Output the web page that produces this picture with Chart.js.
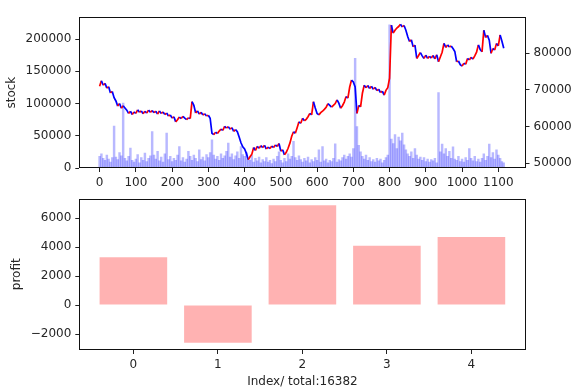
<!DOCTYPE html>
<html>
<head>
<meta charset="utf-8">
<script src="https://cdn.jsdelivr.net/npm/chart.js@4"></script>
<style>
body { margin: 0; background: #fff; }
#top { position: absolute; left: 0; top: 0; }
#bottom { position: absolute; left: 0; top: 180px; }
</style>
</head>
<body>
<canvas id="top" width="580" height="195"></canvas>
<canvas id="bottom" width="580" height="211"></canvas>
<script>
// one sample every 5 index steps
const step = 5;

const price = [
    71000, 72500, 71300, 71800, 70500, 70900, 69200, 69600, 67900, 67000,
    65600, 66300, 65000, 65700, 65100, 64500, 63600, 64200, 63300, 64000,
    63600, 64600, 63900, 64300, 63500, 64200, 63700, 64500, 63900, 64400,
    63800, 64200, 63400, 64300, 63600, 64000, 63300, 63700, 62900, 63200,
    62300, 62700, 61300, 61900, 62600, 62200, 62800, 62300, 61900, 62400,
    62200, 66800, 65800, 63700, 64300, 63400, 63900, 63200, 63500, 62900,
    63100, 62300, 58200, 57800, 58500, 58100, 58800, 59300, 59000, 60100,
    59600, 60000, 59300, 59700, 58700, 59200, 58600, 57200, 55600, 54500,
    53900, 52700, 51000, 51800, 52500, 54300, 53500, 54600, 54100, 54800,
    54300, 54900, 53900, 54400, 54000, 54700, 54300, 55000, 54600, 55400,
    53300, 53700, 52300, 53000, 54100, 55500, 57400, 58600, 58200, 59700,
    61300, 60900, 62300, 61600, 62000, 62700, 63600, 63200, 66800, 65100,
    63600, 63200, 63800, 64200, 64700, 65300, 66300, 65800, 65300, 65800,
    66300, 67300, 66400, 65000, 65700, 66700, 68200, 67800, 70800, 72700,
    72200, 70800, 63600, 65800, 65400, 69100, 71300, 70600, 71200, 70400,
    71000, 70200, 70700, 69800, 70200, 69300, 69700, 68600, 69900, 70600,
    73200, 87700, 85500, 86300, 86900, 87300, 87900, 87200, 87600, 86300,
    84600, 83200, 83700, 81800, 82200, 78600, 79400, 80200, 79300, 78600,
    79500, 78600, 79200, 78700, 79400, 78500, 79600, 77700, 79000, 80300,
    82700, 81600, 82300, 81700, 82000, 81300, 80500, 77700, 77900, 76900,
    76500, 77300, 77000, 78600, 78200, 78900, 78400, 79300, 80300, 82300,
    81000, 80400, 86300, 84300, 84900, 83600, 80000, 81300, 80900, 82700,
    82000, 85000, 83300, 81400
];

const volume = [
    18000, 22000, 15000, 12000, 20000, 14000, 9000, 16000, 65000, 17000,
    13000, 24000, 19000, 100500, 15000, 11000, 18000, 31000, 12000, 9000,
    14000, 21000, 8000, 16000, 12000, 23000, 10000, 15000, 19000, 56600,
    20000, 14000, 26000, 11000, 17000, 9000, 22000, 54100, 13000, 18000,
    10000, 15000, 12000, 20000, 33400, 11000, 16000, 9000, 14000, 25700,
    18000, 12000, 20000, 15000, 10000, 28300, 13000, 17000, 11000, 21000,
    16000, 24000, 43800, 20000, 14000, 18000, 12000, 22000, 15000, 19000,
    26000, 38700, 17000, 22000, 13000, 19000, 25000, 15000, 33400, 21000,
    18000, 24000, 14000, 12000, 20000, 9000, 15000, 11000, 17000, 8000,
    13000, 10000, 16000, 9000, 12000, 7000, 14000, 10000, 18000, 25000,
    12000, 8000, 15000, 10000, 22000, 14000, 18000, 41200, 16000, 12000,
    19000, 13000, 9000, 15000, 11000, 17000, 8000, 13000, 10000, 16000,
    12000, 28000, 9000, 33400, 11000, 14000, 8000, 12000, 10000, 15000,
    37400, 9000, 13000, 11000, 16000, 20000, 14000, 18000, 22000, 17000,
    30000, 170000, 64400, 35000, 25000, 18000, 14000, 20000, 12000, 16000,
    10000, 13000, 9000, 15000, 11000, 14000, 8000, 12000, 16000, 20000,
    222000, 45000, 38000, 52000, 30000, 48000, 42000, 54000, 36000, 28000,
    22000, 18000, 25000, 15000, 30000, 20000, 14000, 17000, 12000, 16000,
    10000, 14000, 9000, 13000, 11000, 15000, 8000, 117000, 25000, 37000,
    22000, 30000, 18000, 26000, 15000, 33000, 14000, 12000, 18000, 10000,
    14000, 9000, 16000, 12000, 30000, 15000, 11000, 18000, 10000, 14000,
    9000, 15000, 22000, 12000, 18000, 37000, 16000, 24000, 14000, 28000,
    20000, 15000, 10000, 8000
];

const indexTicks = [0, 100, 200, 300, 400, 500, 600, 700, 800, 900, 1000, 1100];
const stockTicks = [0, 50000, 100000, 150000, 200000];
const priceTicks = [50000, 60000, 70000, 80000];

const profitIdx = [0, 1, 2, 3, 4];
const profit = [3300, -2600, 6900, 4100, 4700];
const profitTicks = [-2000, 0, 2000, 4000, 6000];

const stockTitle = 'stock';
const profitTitle = 'profit';
const xTitle = 'Index/ total:16382';

const font = { family: 'DejaVu Sans', size: 12 };
const txt = '#262626';
const fmt = v => String(v).replace('-', '\u2212');

// full box round the plot area, like matplotlib spines
const frame = {
    id: 'frame',
    afterDraw(chart) {
        const a = chart.chartArea;
        const ctx = chart.ctx;
        ctx.save();
        ctx.strokeStyle = '#111';
        ctx.lineWidth = 1;
        const l = Math.round(a.left) + 0.5, t = Math.round(a.top) + 0.5;
        const r = Math.round(a.right) - 0.5, b = Math.round(a.bottom) - 0.5;
        ctx.strokeRect(l, t, r - l, b - t);
        ctx.restore();
    }
};

function tickAxis(vals, extra) {
    return Object.assign({
        grid: { drawOnChartArea: false, drawTicks: true, tickLength: 4, color: '#222', offset: false },
        border: { display: false },
        ticks: { font: font, color: txt, callback: fmt, maxRotation: 0, autoSkip: false, padding: 4 },
        afterBuildTicks: s => { s.ticks = vals.map(v => ({ value: v })); }
    }, extra);
}

const priceData = price.map((p, i) => ({ x: i * step, y: p }));
const volData = volume.map((v, i) => ({ x: i * step, y: v }));

new Chart(document.getElementById('top'), {
    type: 'bar',
    data: {
        datasets: [{
            type: 'line',
            data: priceData,
            yAxisID: 'y2',
            borderWidth: 1.7,
            pointRadius: 0,
            tension: 0,
            segment: {
                borderColor: c => c.p1.parsed.y >= c.p0.parsed.y ? '#ff0000' : '#0000ff'
            }
        }, {
            type: 'bar',
            data: volData,
            yAxisID: 'y',
            backgroundColor: 'rgba(0, 0, 255, 0.28)',
            barPercentage: 1,
            categoryPercentage: 1
        }]
    },
    options: {
        responsive: false,
        animation: false,
        layout: { padding: { top: 17.3, left: 0, right: 0, bottom: 0 } },
        plugins: { legend: { display: false }, tooltip: { enabled: false } },
        scales: {
            x: tickAxis(indexTicks, {
                type: 'linear',
                offset: false,
                min: -56, max: 1175,
                afterFit: s => { s.height = 27; }
            }),
            y: tickAxis(stockTicks, {
                position: 'left',
                min: 0, max: 233700,
                afterFit: s => { s.width = 79.3; },
                title: { display: true, text: stockTitle, font: font, color: txt, padding: { top: 4.5 } }
            }),
            y2: tickAxis(priceTicks, {
                position: 'right',
                min: 48718, max: 89818,
                afterFit: s => { s.width = 54.5; }
            })
        }
    },
    plugins: [frame]
});

new Chart(document.getElementById('bottom'), {
    type: 'bar',
    data: {
        datasets: [{
            data: profitIdx.map((x, i) => ({ x: x, y: profit[i] })),
            backgroundColor: 'rgba(255, 0, 0, 0.3)',
            barPercentage: 0.8,
            categoryPercentage: 1
        }]
    },
    options: {
        responsive: false,
        animation: false,
        layout: { padding: { top: 18.5, left: 0, right: 54.5, bottom: 0 } },
        plugins: { legend: { display: false }, tooltip: { enabled: false } },
        scales: {
            x: tickAxis(profitIdx, {
                type: 'linear',
                offset: false,
                min: -0.64, max: 4.64,
                afterFit: s => { s.height = 41; },
                title: { display: true, text: xTitle, font: font, color: txt, padding: { top: 0, bottom: 2.3 } }
            }),
            y: tickAxis(profitTicks, {
                position: 'left',
                min: -3105, max: 7370,
                afterFit: s => { s.width = 79.3; },
                title: { display: true, text: profitTitle, font: font, color: txt, padding: { top: 9.5 } }
            })
        }
    },
    plugins: [frame]
});
</script>
</body>
</html>
